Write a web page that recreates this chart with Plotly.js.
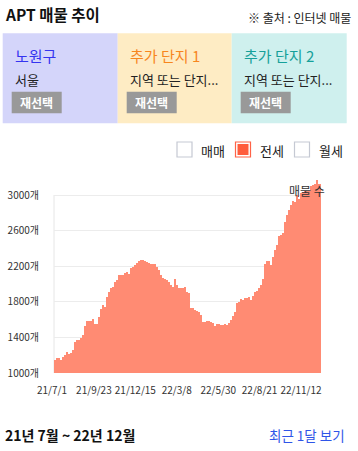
<!DOCTYPE html>
<html>
<head>
<meta charset="utf-8">
<script src="https://cdn.plot.ly/plotly-3.0.1.min.js"></script>
<style>
html,body{margin:0;padding:0;background:#fff;}
#chart{width:358px;height:451px;}
</style>
</head>
<body>
<div id="chart"></div>
<script>
// ---- data ----
var startDate = '2021-07-01';
var binDays = 4;
var listingCounts = [
 1146,1172,1172,1145,1180,1202,1232,1213,1220,1258,
 1352,1370,1370,1388,1427,1528,1588,1588,1580,1603,
 1550,1550,1633,1715,1764,1745,1858,1914,1951,1963,
 2026,2045,2101,2101,2101,2127,2135,2112,2176,2195,
 2213,2232,2262,2270,2270,2258,2251,2240,2221,2225,
 2225,2195,2157,2101,2064,2052,2045,2026,1989,1970,
 2052,1989,1951,1960,1955,1963,1914,1895,1727,1727,
 1708,1697,1682,1652,1577,1577,1588,1588,1577,1558,
 1528,1551,1551,1540,1543,1551,1540,1566,1596,1644,
 1689,1783,1802,1831,1820,1839,1840,1849,1820,1865,
 1914,1921,1951,1989,2052,2221,2258,2258,2213,2300,
 2382,2438,2539,2550,2576,2700,2775,2831,2888,2936,
 2925,3000,2951,3026,3037,3048,3048,3048,3101,3112,
 3124,3168,3124,3124
];
var tickDates = ['2021-07-01','2021-09-23','2021-12-15','2022-03-08','2022-05-30','2022-08-21','2022-11-12'];
var tickLabels = ['21/7/1','21/9/23','21/12/15','22/3/8','22/5/30','22/8/21','22/11/12'];
var yTicks = [1000,1400,1800,2200,2600,3000];
var yTickLabels = ['1000개','1400개','1800개','2200개','2600개','3000개'];
var regionTitles = ['노원구','추가 단지 1','추가 단지 2'];
var regionSubs = ['서울','지역 또는 단지...','지역 또는 단지...'];
var legendItems = ['매매','전세','월세'];

// ---- build ----
var DAY = 86400000;
var t0 = new Date(startDate + 'T00:00:00Z').getTime();
var xDates = listingCounts.map(function(v, i){
  return new Date(t0 + (i*binDays + binDays/2)*DAY).toISOString().slice(0,19).replace('T',' ');
});

var W = 358, H = 451, L = 54, R = 37, T = 175, B = 78;
var PW = W - L - R, PH = H - T - B;
function px(x){ return (x - L)/PW; }
function py(y){ return (H - B - y)/PH; }
var FONT = '"Noto Sans CJK KR", "Noto Sans", sans-serif';

var shapes = [], ann = [];
function rect(x0,y0,x1,y1,fill,line,lw){
  shapes.push({type:'rect', xref:'paper', yref:'paper', x0:px(x0), x1:px(x1), y0:py(y1), y1:py(y0),
    fillcolor:fill, line:{color:line||fill, width:lw||0}, layer:'above'});
}
function text(t,x,y,size,color,anchor,bold){
  ann.push({text: bold ? '<b>'+t+'</b>' : t, xref:'paper', yref:'paper', x:px(x), y:py(y),
    xanchor:anchor||'left', yanchor:'middle', showarrow:false,
    font:{family:FONT, size:size, color:color}});
}

// header
text('APT 매물 추이', 3, 14, 15.5, '#111', 'left', true);
text('※ 출처 : 인터넷 매물', 353, 18, 12, '#222', 'right', false);

// panels
var panelX = [2.7, 117.7, 231.7, 346.7];
var panelFill = ['#d4d5fa','#feecc4','#cff0ee'];
var titleColor = ['#3434f0','#f7861e','#15a09a'];
for (var i=0;i<3;i++){
  rect(panelX[i], 33.3, panelX[i+1], 123.3, panelFill[i]);
  text(regionTitles[i], panelX[i]+10, 55, 15, titleColor[i], 'left', false);
  text(regionSubs[i], panelX[i]+10, 79, 13, '#222', 'left', false);
  rect(panelX[i]+9, 91.7, panelX[i]+59, 113.3, '#999999');
  text('재선택', panelX[i]+34, 102.5, 12, '#ffffff', 'center', true);
}

// legend checkboxes
var boxX = [177, 235.5, 294.5];
for (var j=0;j<3;j++){
  if (j === 1){
    rect(boxX[j], 142, boxX[j]+15, 157, '#ffffff', '#ff6347', 1.2);
    rect(boxX[j]+2, 144, boxX[j]+13, 155, '#ff5c3c');
  } else {
    rect(boxX[j], 142, boxX[j]+15, 157, '#ffffff', '#c5c9d3', 1.2);
  }
  text(legendItems[j], boxX[j]+22, 150, 13, '#222', 'left', false);
}

// series label
text('매물 수', 286.5, 190, 12, '#333', 'left', false);

// bottom
text('21년 7월 ~ 22년 12월', 3, 435, 14, '#111', 'left', true);
text('최근 1달 보기', 347, 435, 13.5, '#2f55e8', 'right', false);

// y axis line
shapes.push({type:'line', xref:'paper', yref:'y', x0:0, x1:0, y0:1000, y1:3000,
  line:{color:'#e6e6e6', width:1}, layer:'below'});

var yTop = 1000 + (3000-1000) * (373-175)/(373-195);

var trace = {
  type:'bar', x:xDates, y:listingCounts, width: binDays*DAY,
  marker:{color:'#ff8b73', line:{width:0}}, hoverinfo:'skip'
};

var layout = {
  width:W, height:H, margin:{l:L, r:R, t:T, b:B, pad:0},
  paper_bgcolor:'#ffffff', plot_bgcolor:'#ffffff',
  showlegend:false, bargap:0,
  font:{family:FONT, size:10, color:'#333'},
  xaxis:{type:'date', range:[startDate, '2022-12-18'], tickmode:'array',
    tickvals:tickDates, ticktext:tickLabels, showgrid:false, zeroline:false, showline:false,
    ticks:'outside', ticklen:8, tickcolor:'rgba(0,0,0,0)', ticklabelshift:-2,
    tickfont:{family:FONT, size:10, color:'#333'}, fixedrange:true},
  yaxis:{range:[1000, yTop], tickmode:'array', tickvals:yTicks, ticktext:yTickLabels,
    showgrid:true, gridcolor:'#ececec', gridwidth:1, zeroline:false, showline:false,
    ticks:'outside', ticklen:12, tickcolor:'rgba(0,0,0,0)',
    tickfont:{family:FONT, size:10, color:'#333'}, fixedrange:true},
  shapes:shapes, annotations:ann
};

Plotly.newPlot('chart', [trace], layout, {displayModeBar:false, staticPlot:true});
</script>
</body>
</html>
